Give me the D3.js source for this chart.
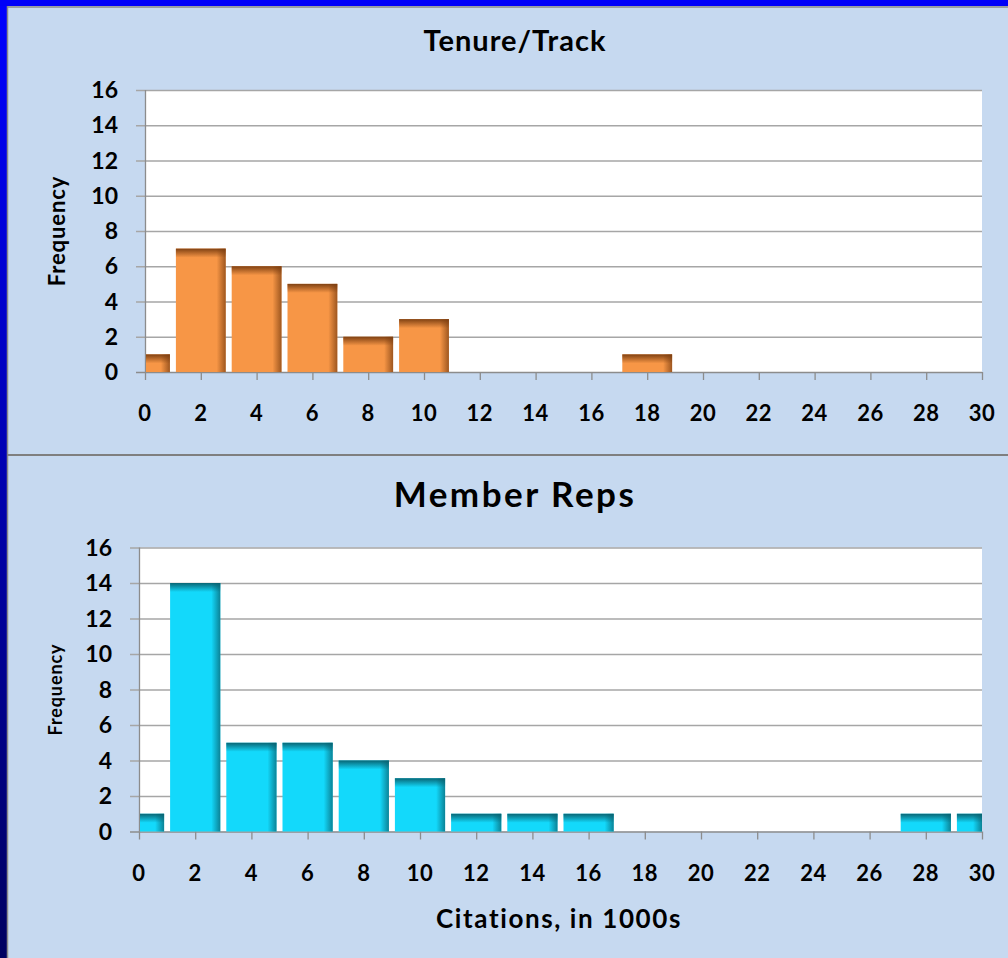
<!DOCTYPE html>
<html>
<head>
<meta charset="utf-8">
<script src="https://cdn.jsdelivr.net/npm/d3@7"></script>
<style>
  html, body { margin: 0; padding: 0; background: #c6d9f0; }
  svg { display: block; }
  text { font-family: Lato, "Open Sans", sans-serif; fill: #000; }
</style>
</head>
<body>
<div id="chart"></div>
<script>
// histogram data (bins of width 2, centred on even values)
var binCenters = [0, 2, 4, 6, 8, 10, 12, 14, 16, 18, 20, 22, 24, 26, 28, 30];
var tenureCounts = [1, 7, 6, 5, 2, 3, 0, 0, 0, 1, 0, 0, 0, 0, 0, 0];
var memberCounts = [1, 14, 5, 5, 4, 3, 1, 1, 1, 0, 0, 0, 0, 0, 1, 1];
var yTicks = [0, 2, 4, 6, 8, 10, 12, 14, 16];
var xTicks = [0, 2, 4, 6, 8, 10, 12, 14, 16, 18, 20, 22, 24, 26, 28, 30];
var titles = ["Tenure/Track", "Member Reps"];
var yTitle = "Frequency";
var xTitle = "Citations, in 1000s";

var width = 1008, height = 958;

var svg = d3.select("#chart").append("svg")
    .attr("width", width)
    .attr("height", height);

var defs = svg.append("defs");

// blue frame on the left, fading to navy
var lg = defs.append("linearGradient").attr("id", "frameGrad")
    .attr("x1", 0).attr("y1", 0).attr("x2", 0).attr("y2", 1);
lg.append("stop").attr("offset", "0%").attr("stop-color", "#0000ff");
lg.append("stop").attr("offset", "100%").attr("stop-color", "#000060");

svg.append("rect").attr("width", width).attr("height", height).attr("fill", "#c6d9f0");
svg.append("rect").attr("x", 0).attr("y", 0).attr("width", 7).attr("height", height).attr("fill", "url(#frameGrad)");
svg.append("rect").attr("x", 0).attr("y", 0).attr("width", width).attr("height", 6).attr("fill", "#0000f8");
svg.append("line").attr("x1", 7.5).attr("x2", 7.5).attr("y1", 6).attr("y2", height)
    .attr("stroke", "#8a8a8a").attr("stroke-width", 1.5);
svg.append("line").attr("x1", 7).attr("x2", width).attr("y1", 7).attr("y2", 7)
    .attr("stroke", "#8a8a8a").attr("stroke-width", 1.5);
// divider between the two charts
svg.append("line").attr("x1", 7).attr("x2", width).attr("y1", 455).attr("y2", 455)
    .attr("stroke", "#7f7f7f").attr("stroke-width", 2);

// bevel gradients for the bars
function bevel(id, dark, vertical) {
  var g = defs.append("linearGradient").attr("id", id);
  if (vertical) g.attr("x1", 0).attr("y1", 0).attr("x2", 0).attr("y2", 1);
  else g.attr("x1", 1).attr("y1", 0).attr("x2", 0).attr("y2", 0);
  g.append("stop").attr("offset", "0%").attr("stop-color", dark).attr("stop-opacity", 0.95);
  g.append("stop").attr("offset", "100%").attr("stop-color", dark).attr("stop-opacity", 0);
}
bevel("orTop", "#7a3d10", true);
bevel("orSide", "#7a3d10", false);
bevel("cyTop", "#08606e", true);
bevel("cySide", "#08606e", false);

function drawHist(cfg) {
  var g = svg.append("g");

  var x = d3.scaleLinear().domain([0, 30]).range([cfg.left, 982]);
  var y = d3.scaleLinear().domain([0, 16]).range([cfg.bottom, cfg.top]);

  g.append("rect")
      .attr("x", x(0)).attr("y", y(16))
      .attr("width", x(30) - x(0)).attr("height", y(0) - y(16))
      .attr("fill", "#fff");

  // gridlines + left ticks
  g.selectAll(".grid").data(yTicks).enter().append("line")
      .attr("x1", x(0) - 9).attr("x2", x(30))
      .attr("y1", function(d) { return y(d) + 0.5; })
      .attr("y2", function(d) { return y(d) + 0.5; })
      .attr("stroke", function(d) { return d === 0 ? "#8c8c8c" : "#a6a6a6"; })
      .attr("stroke-width", 1.3);

  g.append("line")
      .attr("x1", x(0) + 0.5).attr("x2", x(0) + 0.5)
      .attr("y1", y(16)).attr("y2", y(0))
      .attr("stroke", "#8c8c8c").attr("stroke-width", 1.3);

  // x ticks
  g.selectAll(".xt").data(xTicks).enter().append("line")
      .attr("x1", function(d) { return x(d) + 0.5; })
      .attr("x2", function(d) { return x(d) + 0.5; })
      .attr("y1", y(0)).attr("y2", y(0) + 8)
      .attr("stroke", "#8c8c8c").attr("stroke-width", 1.3);

  var bins = binCenters.map(function(c, i) {
    return { x0: Math.max(0, c - 1), x1: Math.min(30, c + 1), n: cfg.counts[i] };
  }).filter(function(d) { return d.n > 0; });

  var bar = g.selectAll(".bar").data(bins).enter().append("g");

  function bx(d) { return x(d.x0) + (d.x0 === 0 ? 1 : 3); }
  function bw(d) { return x(d.x1) - (d.x1 === 30 ? 0 : 3) - bx(d); }

  bar.append("rect")
      .attr("x", bx)
      .attr("y", function(d) { return y(d.n); })
      .attr("width", bw)
      .attr("height", function(d) { return y(0) - y(d.n); })
      .attr("fill", cfg.fill);
  bar.append("rect")
      .attr("x", function(d) { return bx(d) + bw(d) - 9; })
      .attr("y", function(d) { return y(d.n); })
      .attr("width", 9)
      .attr("height", function(d) { return y(0) - y(d.n); })
      .attr("fill", "url(#" + cfg.side + ")")
      .attr("opacity", 0.75);
  bar.append("rect")
      .attr("x", bx)
      .attr("y", function(d) { return y(d.n); })
      .attr("width", bw)
      .attr("height", function(d) { return Math.min(9, y(0) - y(d.n)); })
      .attr("fill", "url(#" + cfg.topG + ")");

  // tick labels
  g.selectAll(".yl").data(yTicks).enter().append("text")
      .attr("x", x(0) - 27)
      .attr("y", function(d) { return y(d) + 8; })
      .attr("text-anchor", "end")
      .style("font-size", "23px").style("font-weight", "bold")
      .text(function(d) { return d; });

  g.selectAll(".xl").data(xTicks).enter().append("text")
      .attr("x", function(d) { return x(d); })
      .attr("y", y(0) + 49)
      .attr("text-anchor", "middle")
      .style("font-size", "22px").style("font-weight", "bold")
      .style("letter-spacing", "0.5px")
      .text(function(d) { return d; });

  g.append("text")
      .attr("x", 515).attr("y", cfg.titleY)
      .attr("text-anchor", "middle")
      .style("font-size", cfg.titleSize).style("font-weight", "bold")
      .style("letter-spacing", cfg.titleSpacing)
      .text(cfg.title);

  g.append("text")
      .attr("transform", "translate(" + cfg.yTitleX + "," + ((y(0) + y(16)) / 2) + ") rotate(-90)")
      .attr("text-anchor", "middle")
      .style("font-size", cfg.yTitleSize).style("font-weight", "bold")
      .style("letter-spacing", "0.9px")
      .text(yTitle);

  return { x: x, y: y };
}

drawHist({ counts: tenureCounts, left: 145, top: 90, bottom: 372, title: titles[0],
  titleY: 51, titleSize: "29px", titleSpacing: "1px", yTitleX: 65, yTitleSize: "22px",
  fill: "#f79646", topG: "orTop", side: "orSide" });

drawHist({ counts: memberCounts, left: 139, top: 547.5, bottom: 831.5, title: titles[1],
  titleY: 507, titleSize: "35px", titleSpacing: "2.5px", yTitleX: 62, yTitleSize: "18px",
  fill: "#13d9fb", topG: "cyTop", side: "cySide" });

svg.append("text")
    .attr("x", 559).attr("y", 928)
    .attr("text-anchor", "middle")
    .style("font-size", "26px").style("font-weight", "bold")
    .style("letter-spacing", "1.6px")
    .text(xTitle);
</script>
</body>
</html>
